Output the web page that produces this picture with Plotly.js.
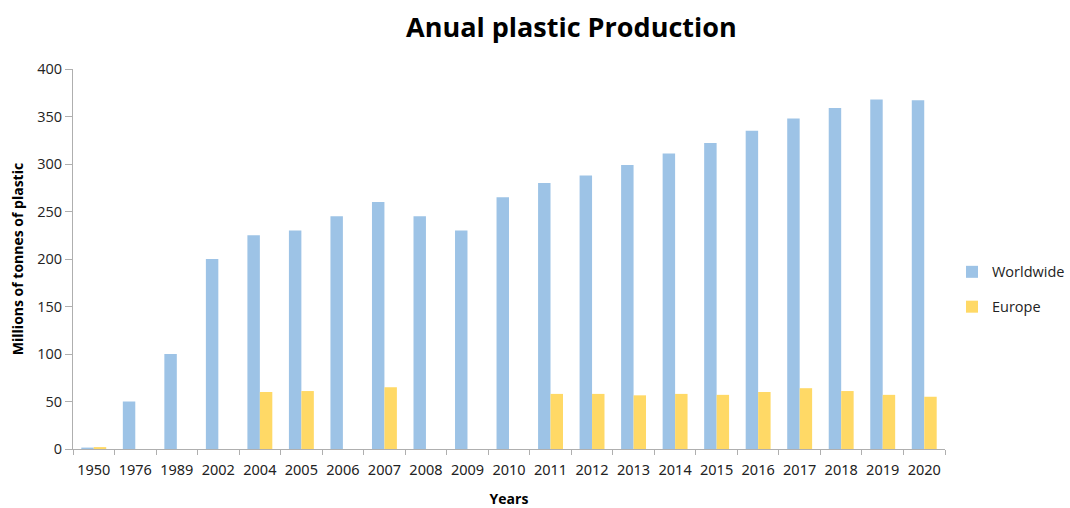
<!DOCTYPE html>
<html>
<head>
<meta charset="utf-8">
<script src="https://cdn.plot.ly/plotly-3.0.1.min.js"></script>
<style>html,body{margin:0;padding:0;background:#fff;}#chart{width:1070px;height:508px;}</style>
</head>
<body>
<div id="chart"></div>
<script>
const years = ["1950","1976","1989","2002","2004","2005","2006","2007","2008","2009","2010","2011","2012","2013","2014","2015","2016","2017","2018","2019","2020"];
const worldwide = [1.5,50,100,200,225,230,245,260,245,230,265,280,288,299,311,322,335,348,359,368,367];
const europe = [2,null,null,null,60,61,null,65,null,null,null,58,58,56.5,58,57,60,64,61,57,55];

const font = "Open Sans, Liberation Sans, sans-serif";
const data = [
  {type:'bar', name:'Worldwide', legendgroup:'a', x:years, y:worldwide, marker:{color:'#9DC3E6'}},
  {type:'bar', name:'Europe', legendgroup:'b', x:years, y:europe, marker:{color:'#FFD966'}}
];
const layout = {
  width:1070, height:508,
  paper_bgcolor:'#fff', plot_bgcolor:'#fff',
  margin:{l:73, r:125, t:69, b:59, autoexpand:false},
  barmode:'group', bargap:0.4, bargroupgap:0,
  font:{family:font, color:'#222', size:14},
  title:{text:'<b>Anual plastic Production</b>', font:{size:27, color:'#000', family:font}, x:0.534, xanchor:'center', y:0.945, yanchor:'middle'},
  xaxis:{type:'category', showline:true, linecolor:'#AFAFAF', linewidth:1, ticks:'outside', tickson:'boundaries', ticklen:5, tickcolor:'#AFAFAF',
    tickangle:0, ticklabelstandoff:8, tickfont:{size:14.5, color:'#222', family:'Noto Sans, Open Sans, sans-serif'}, title:{text:'<b>Years</b>', font:{size:14, color:'#000'}, standoff:22}, showgrid:false},
  yaxis:{range:[0,400], dtick:50, showline:true, linecolor:'#AFAFAF', linewidth:1, ticks:'outside', ticklen:7, tickcolor:'#AFAFAF',
    tickfont:{size:14.5, color:'#222'}, showgrid:false, zeroline:false,
    title:{text:'<b>Millions of tonnes of plastic</b>', font:{size:14, color:'#000'}, standoff:10}},
  legend:{x:1.008, y:0.42, xanchor:'left', yanchor:'middle', font:{size:14.5, color:'#222'}, tracegroupgap:13, itemwidth:30, traceorder:'grouped'},
  showlegend:true
};
Plotly.newPlot('chart', data, layout, {displayModeBar:false, staticPlot:true});
</script>
</body>
</html>
